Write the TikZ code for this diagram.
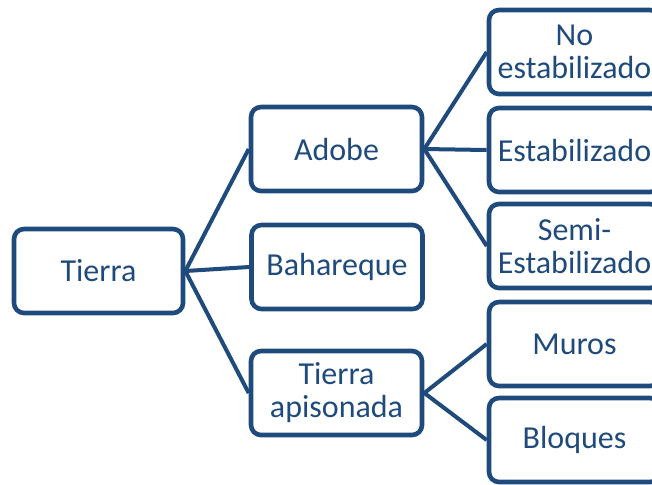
\documentclass[tikz,border=0pt]{standalone}
\usepackage{fontspec}
\setmainfont{Carlito}
\definecolor{boxblue}{HTML}{1F4A7C}
\begin{document}
\begin{tikzpicture}[x=0.5pt, y=-0.5pt,
    main/.style = {draw=boxblue, text=boxblue, line width=2.3pt, rounded corners=5pt,
      minimum width=85.5pt, minimum height=42pt, inner sep=0pt, align=center,
      font=\fontsize{16}{16.5}\selectfont},
    link/.style = {draw=boxblue, line width=2pt}]
    \useasboundingbox (0,0) rectangle (652,484);
    \node[main, minimum width=84.5pt] (tierra) at (98.5,271) {Tierra};
    \node[main] (adobe) at (336.5,149) {Adobe};
    \node[main] (bahareque) at (337,267) {Bahareque};
    \node[main] (apisonada) at (336.5,393) {Tierra\\apisonada};
    \node[main] (noest) at (574.5,52) {No\\estabilizado};
    \node[main] (est) at (574.5,150) {Estabilizado};
    \node[main] (semiest) at (574.5,246) {Semi-\\Estabilizado};
    \node[main] (muros) at (574.5,344) {Muros};
    \node[main] (bloques) at (574.5,440) {Bloques};
    \draw[link] (tierra.east) -- (adobe.west);
    \draw[link] (tierra.east) -- (bahareque.west);
    \draw[link] (tierra.east) -- (apisonada.west);
    \draw[link] (adobe.east) -- (noest.west);
    \draw[link] (adobe.east) -- (est.west);
    \draw[link] (adobe.east) -- (semiest.west);
    \draw[link] (apisonada.east) -- (muros.west);
    \draw[link] (apisonada.east) -- (bloques.west);
\end{tikzpicture}
\end{document}
